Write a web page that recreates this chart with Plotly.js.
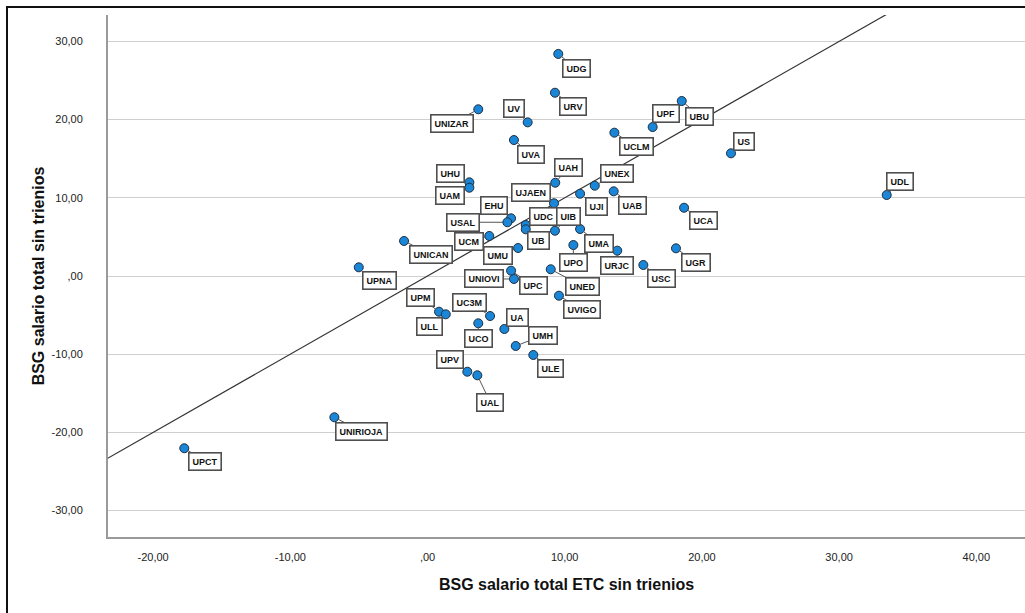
<!DOCTYPE html>
<html>
<head>
<meta charset="utf-8">
<script src="https://cdn.plot.ly/plotly-3.0.1.min.js"></script>
<style>
  html, body { margin: 0; padding: 0; background: #fff; overflow: hidden; }
  #wrap { position: relative; width: 1025px; height: 613px; }
  #chart { position: absolute; left: 0; top: 0; width: 1025px; height: 613px; }
  #frame { position: absolute; left: 6px; top: 6px; width: 1100px; height: 700px;
           border-left: 2px solid #111; border-top: 2px solid #111; pointer-events: none; }
</style>
</head>
<body>
<div id="wrap">
  <div id="chart"></div>
  <div id="frame"></div>
</div>
<script>
// ---- Data ----
const universities = ["UDG","URV","UNIZAR","UV","UPF","UBU","UCLM","UVA","US","UHU",
  "UAM","UAH","UNEX","UJI","UAB","UDL","UJAEN","UCA","EHU","USAL",
  "UDC","UB","UIB","UMA","UCM","UNICAN","UMU","UPO","URJC","UGR",
  "USC","UPNA","UNIOVI","UPC","UNED","UVIGO","UPM","ULL","UC3M","UCO",
  "UA","UMH","ULE","UPV","UAL","UNIRIOJA","UPCT"];
const salarioETC = [9.53, 9.29, 3.70, 7.30, 16.41, 18.53, 13.62, 6.30, 22.12, 3.05,
  3.05, 9.31, 12.19, 11.12, 13.57, 33.47, 9.22, 18.70, 6.09, 5.82,
  7.16, 7.16, 9.29, 11.12, 4.50, -1.71, 6.60, 10.63, 13.83, 18.11,
  15.73, -5.01, 6.30, 6.09, 8.98, 9.58, 0.84, 1.33, 4.56, 3.70,
  5.60, 6.43, 7.71, 2.90, 3.63, -6.79, -17.73];
const salarioTotal = [28.40, 23.44, 21.32, 19.65, 19.05, 22.38, 18.33, 17.39, 15.69, 11.98,
  11.29, 11.93, 11.55, 10.52, 10.83, 10.36, 9.30, 8.73, 7.38, 6.87,
  6.52, 5.97, 5.79, 6.01, 5.12, 4.48, 3.58, 3.96, 3.24, 3.54,
  1.41, 1.11, -0.38, 0.68, 0.86, -2.52, -4.57, -4.90, -5.12, -6.05,
  -6.78, -8.95, -10.10, -12.24, -12.70, -18.07, -22.03];
// reference line y = x
const refLineX = [-24, 34];
const refLineY = [-24, 34];
// tick labels
const xTickVals = [-20, -10, 0, 10, 20, 30, 40];
const xTickText = ["-20,00", "-10,00", ",00", "10,00", "20,00", "30,00", "40,00"];
const yTickVals = [-30, -20, -10, 0, 10, 20, 30];
const yTickText = ["-30,00", "-20,00", "-10,00", ",00", "10,00", "20,00", "30,00"];
const xTitle = "BSG salario total ETC sin trienios";
const yTitle = "BSG salario total sin trienios";

// ---- Layout: label box offsets in pixels (dx, dy) ----
const labelOffsets = {
  UDG:[18,14.5], URV:[18.5,14], UNIZAR:[-26,14], UV:[-14,-14], UPF:[13,-13.5],
  UBU:[18,15], UCLM:[22,14], UVA:[17.5,14.5], US:[13,-12], UHU:[-19,-9],
  UAM:[-19,8], UAH:[13,-15], UNEX:[22,-12], UJI:[16,13], UAB:[19,14],
  UDL:[13,-13], UJAEN:[-23.5,-11], UCA:[19,13], EHU:[-17,-13], USAL:[-44,0],
  UDC:[18,-8.5], UB:[13,11], UIB:[14,-14], UMA:[18.5,14], UCM:[-20,5.5],
  UNICAN:[27,13.5], UMU:[-20,7.5], UPO:[0,17.5], URJC:[0,15], UGR:[20,14],
  USC:[18,13.5], UPNA:[21,13], UNIOVI:[-30,0], UPC:[22.5,15], UNED:[32,17],
  UVIGO:[23,14], UPM:[-18.5,-14], ULL:[-16,12], UC3M:[-20.5,-14], UCO:[0,15],
  UA:[13,-12], UMH:[27,-10.5], ULE:[17,14], UPV:[-17,-12], UAL:[13,27],
  UNIRIOJA:[27,14], UPCT:[21,13]
};

const annotations = universities.map((u, i) => ({
  x: salarioETC[i], y: salarioTotal[i], xref: 'x', yref: 'y',
  text: u, showarrow: true, arrowhead: 0, arrowwidth: 1, arrowcolor: '#555',
  standoff: 4,
  ax: labelOffsets[u][0], ay: labelOffsets[u][1],
  bgcolor: '#ffffff', bordercolor: '#4f4f4f', borderwidth: 1.6, borderpad: 3,
  font: { family: 'Liberation Sans, Arial, sans-serif', size: 9, color: '#111', weight: 'bold' }
}));

const traces = [
  {
    x: refLineX, y: refLineY, type: 'scatter', mode: 'lines',
    line: { color: '#333333', width: 1.2 }, hoverinfo: 'skip', showlegend: false
  },
  {
    x: salarioETC, y: salarioTotal, text: universities, type: 'scatter', mode: 'markers',
    marker: { size: 9, color: '#1a86d8', line: { color: '#1f2f3f', width: 1 } },
    showlegend: false, cliponaxis: false
  }
];

const layout = {
  width: 1025, height: 613,
  margin: { l: 108, r: 0, t: 15, b: 76 },
  paper_bgcolor: '#ffffff', plot_bgcolor: '#ffffff',
  showlegend: false,
  font: { family: 'Liberation Sans, Arial, sans-serif', color: '#222' },
  xaxis: {
    range: [-23.29, 43.55], tickvals: xTickVals, ticktext: xTickText,
    showgrid: false, zeroline: false, showline: true, linecolor: '#9a9a9a', linewidth: 2,
    ticks: '', ticklabelstandoff: 9,
    tickfont: { size: 11, color: '#222222', family: 'Liberation Sans, Arial, sans-serif' },
    title: { text: xTitle, standoff: 17,
             font: { size: 16, color: '#111', weight: 'bold', family: 'Liberation Sans, Arial, sans-serif' } }
  },
  yaxis: {
    range: [-33.38, 33.38], tickvals: yTickVals, ticktext: yTickText,
    showgrid: true, gridcolor: '#cfcfcf', gridwidth: 1,
    zeroline: false, showline: true, linecolor: '#9a9a9a', linewidth: 2,
    ticks: '', ticklabelstandoff: 21,
    tickfont: { size: 11, color: '#222222', family: 'Liberation Sans, Arial, sans-serif' },
    title: { text: yTitle, standoff: 3,
             font: { size: 16, color: '#111', weight: 'bold', family: 'Liberation Sans, Arial, sans-serif' } }
  },
  annotations: annotations
};

Plotly.newPlot('chart', traces, layout, { displayModeBar: false, staticPlot: true });
</script>
</body>
</html>
